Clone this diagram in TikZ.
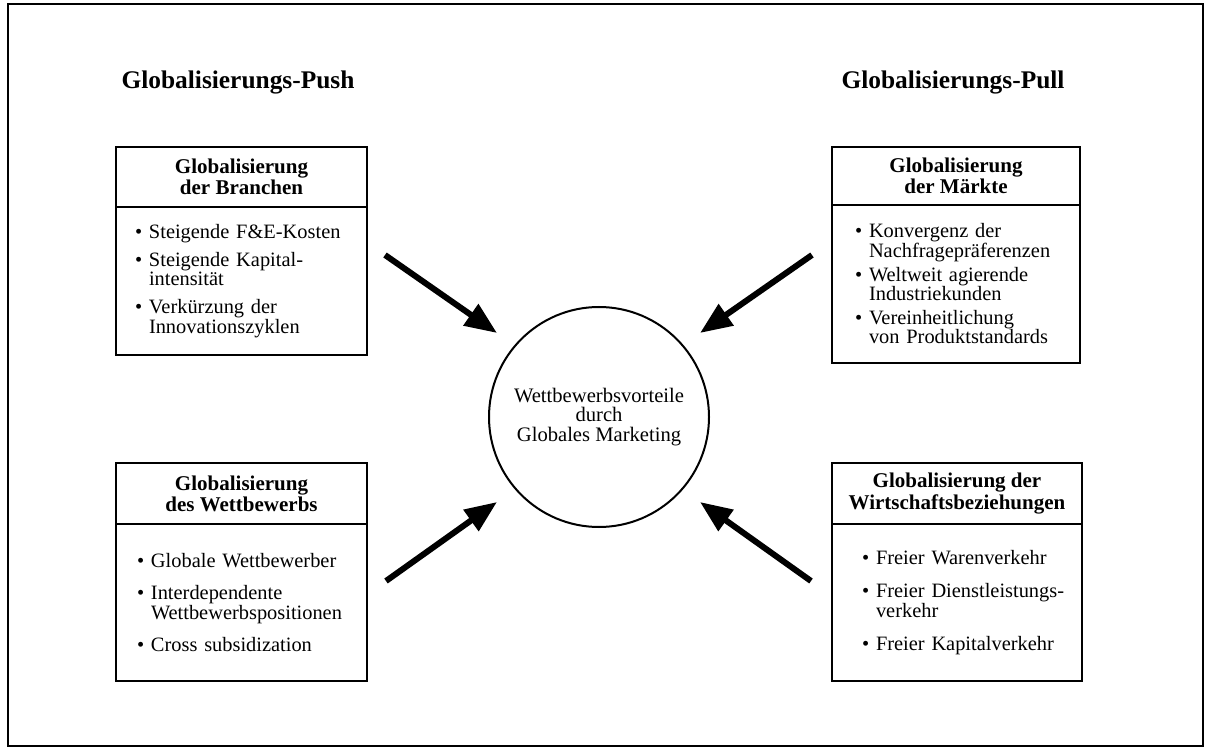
\documentclass[tikz,border=0pt]{standalone}
\usepackage{fontspec}
\setmainfont{Liberation Serif}
\usetikzlibrary{arrows.meta}
\newcommand\itm[1]{\mbox{\makebox[7pt][l]{\textbullet}#1}}
\newcommand\cnt[1]{\mbox{\hspace*{7pt}#1}}
\begin{document}
\begin{tikzpicture}[x=0.5pt,y=-0.5pt,
  frame/.style={draw,line width=0.8pt,rectangle,inner sep=0pt},
  heading/.style={font=\fontsize{12.7pt}{13pt}\selectfont\bfseries,anchor=base},
  boxhead/.style={draw,line width=1pt,rectangle,inner sep=0pt,align=center,
     font=\fontsize{10.5pt}{9.5pt}\selectfont\bfseries},
  boxbody/.style={draw,line width=1pt,rectangle,inner ysep=0pt,align=left,
     font=\fontsize{10.2pt}{9.8pt}\selectfont},
  center/.style={draw,line width=1pt,circle,minimum size=110pt,align=center,
     font=\fontsize{10.3pt}{9.6pt}\selectfont},
  bigarrow/.style={line width=3pt,-{Triangle[length=16pt,width=12.5pt]}}
]
\useasboundingbox (0,0) rectangle (1205,748);
\node[frame,minimum width=597.5pt,minimum height=371pt] (frame) at (605.5,375) {};

\node[heading] (push) at (238,89) {Globalisierungs-Push};
\node[heading] (pull) at (953,89) {Globalisierungs-Pull};

% top left
\node[boxhead,minimum width=125.5pt,minimum height=30pt] (tlh) at (241.5,177)
  {Globalisierung\\der Branchen};
\node[boxbody,minimum width=125.5pt,minimum height=74pt,inner xsep=9.5pt,text width=106.5pt] (tlb) at (241.5,281)
  {\itm{Steigende F\&E-Kosten}\\[4pt]
   \itm{Steigende Kapital-}\\
   \cnt{intensität}\\[4pt]
   \itm{Verkürzung der}\\
   \cnt{Innovationszyklen}};

% top right
\node[boxhead,minimum width=124pt,minimum height=29pt] (trh) at (956,176)
  {Globalisierung\\der Märkte};
\node[boxbody,minimum width=124pt,minimum height=79pt,inner xsep=11.5pt,text width=101pt] (trb) at (956,284)
  {\itm{Konvergenz der}\\
   \cnt{Nachfragepräferenzen}\\[2pt]
   \itm{Weltweit agierende}\\
   \cnt{Industriekunden}\\[2pt]
   \itm{Vereinheitlichung}\\
   \cnt{von Produktstandards}};

% bottom left
\node[boxhead,minimum width=125.5pt,minimum height=30.5pt] (blh) at (241.5,493.5)
  {Globalisierung\\des Wettbewerbs};
\node[boxbody,minimum width=125.5pt,minimum height=78.5pt,inner xsep=10.5pt,text width=104.5pt] (blb) at (241.5,602.5)
  {\itm{Globale Wettbewerber}\\[6.5pt]
   \itm{Interdependente}\\
   \cnt{Wettbewerbspositionen}\\[6.5pt]
   \itm{Cross subsidization}};

% bottom right
\node[boxhead,minimum width=125pt,minimum height=30.5pt] (brh) at (957,493.5)
  {Globalisierung der\\Wirtschaftsbeziehungen};
\node[boxbody,minimum width=125pt,minimum height=78.5pt,inner xsep=15pt,text width=95pt] (brb) at (957,602.5)
  {\itm{Freier Warenverkehr}\\[7pt]
   \itm{Freier Dienstleistungs-}\\
   \cnt{verkehr}\\[7pt]
   \itm{Freier Kapitalverkehr}};

% centre
\node[center] (c) at (599,417) {Wettbewerbsvorteile\\durch\\Globales Marketing};

% arrows
\coordinate (a1s) at (385,255); \coordinate (a1e) at (497,333);
\coordinate (a2s) at (812,255); \coordinate (a2e) at (700,333);
\coordinate (a3s) at (386,581); \coordinate (a3e) at (497,502);
\coordinate (a4s) at (811,581); \coordinate (a4e) at (700,502);
\draw[bigarrow] (a1s) -- (a1e);
\draw[bigarrow] (a2s) -- (a2e);
\draw[bigarrow] (a3s) -- (a3e);
\draw[bigarrow] (a4s) -- (a4e);
\end{tikzpicture}
\end{document}
